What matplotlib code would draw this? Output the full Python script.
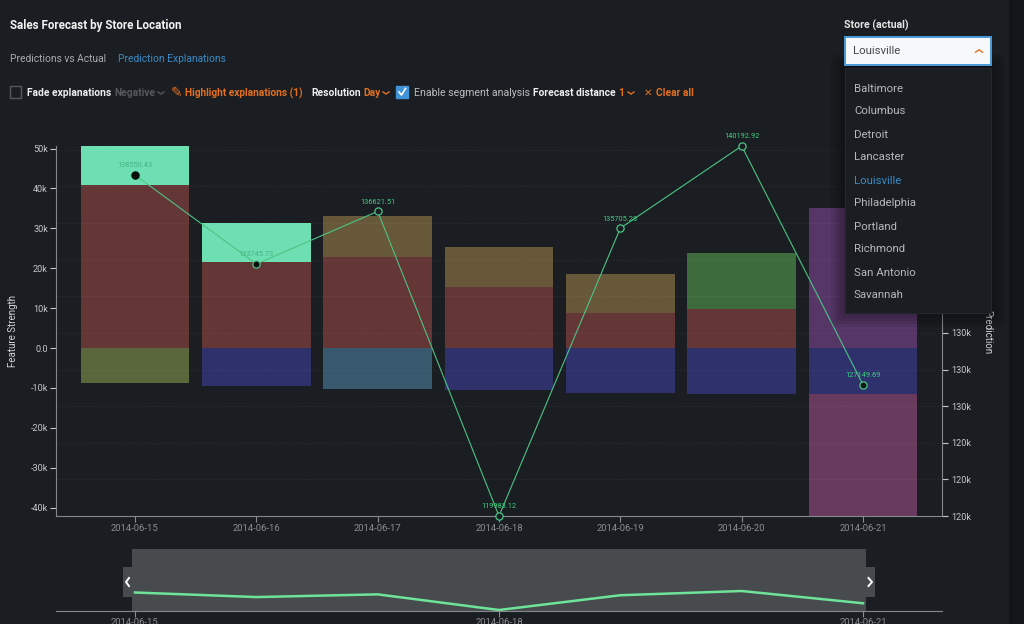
#!/usr/bin/env python3
"""Sales forecast by store location, dark dashboard view."""
import matplotlib
matplotlib.use("Agg")
import matplotlib.pyplot as plt
from matplotlib.patches import FancyBboxPatch, Rectangle

# ─── Data ────────────────────────────────────────────────────────────────
dates = ["2014-06-15", "2014-06-16", "2014-06-17", "2014-06-18",
         "2014-06-19", "2014-06-20", "2014-06-21"]
prediction = [138610.43, 133747.73, 136621.51, 119983.12,
              135705.28, 140192.92, 127149.69]
pred_labels = ["138550.43", "133745.73", "136621.51", "119983.12",
               "135705.28", "140192.92", "127149.69"]

pos_first = [40900, 21500, 22800, 15400, 8800, 9650, 35000]
pos_second = [9700, 9800, 10200, 9900, 9700, 14150, 0]
neg_first = [-8800, -9450, -10300, -10500, -11300, -11500, -11500]
neg_second = [0, 0, 0, 0, 0, 0, -30600]

strength_ticks = [-40000, -30000, -20000, -10000, 0, 10000, 20000, 30000, 40000, 50000]
strength_labels = ["-40k", "-30k", "-20k", "-10k", "0.0", "10k", "20k", "30k", "40k", "50k"]
pred_ticks = [119983.12, 121983.12, 123983.12, 125983.12, 127983.12, 129983.12,
              131983.12, 133983.12, 135983.12, 137983.12, 139983.12]
stores = ["Baltimore", "Columbus", "Detroit", "Lancaster", "Louisville",
          "Philadelphia", "Portland", "Richmond", "San Antonio", "Savannah"]

# ─── Style ───────────────────────────────────────────────────────────────
BG = "#1a1d21"
GREEN = "#4cc484"
LABEL_GREEN = "#3fd184"
ORANGE = "#e4701e"
BLUE = "#3a8cc6"
MAROON = "#643636"
colors_first = [MAROON] * 6 + ["#553666"]
colors_second = ["#6edfb2", "#6edfb2", "#675839", "#675839", "#675839", "#3e6b3e", "#553666"]
colors_neg = ["#5a673b", "#2e316b", "#38586e", "#2e316b", "#2e316b", "#2e316b", "#2e316b"]
color_neg_low = "#683b5e"

plt.rcParams["font.family"] = ["Roboto", "DejaVu Sans"]
plt.rcParams["font.size"] = 7.5


def px_rect(left, top, right, bottom):
    """Axes rectangle from pixel edges of the 1024x624 canvas."""
    return [left / 1024, (624 - bottom) / 624, (right - left) / 1024, (bottom - top) / 624]


def chevron(ov, x, y, color, up=False, size=3.0):
    d = -size * 0.7 if up else size * 0.7
    ov.plot([x - size, x, x + size], [y - d / 2, y + d / 2, y - d / 2], color=color, lw=1.0)


def main():
    fig = plt.figure(figsize=(10.24, 6.24), dpi=100, facecolor=BG)
    xs = list(range(len(dates)))
    xlim = (-0.651, 6.651)

    # ─── Bars ────────────────────────────────────────────────────────────
    ax = fig.add_axes(px_rect(56, 146, 942, 516), facecolor="none")
    ax.bar(xs, pos_first, width=0.895, color=colors_first)
    ax.bar(xs, pos_second, width=0.895, bottom=pos_first, color=colors_second)
    ax.bar(xs, neg_first, width=0.895, color=colors_neg)
    ax.bar(xs, neg_second, width=0.895, bottom=neg_first, color=color_neg_low)
    ax.set_xlim(xlim)
    ax.set_ylim(-42105, 50627)
    ax.set_xticks(xs, dates)
    ax.set_yticks(strength_ticks, strength_labels)
    ax.tick_params(axis="x", colors="#8b8d90", length=4, width=0.8, pad=2, labelsize=6.8)
    ax.tick_params(axis="y", colors="#c4c6c8", length=4.3, width=0.8, pad=1.5, labelsize=6.6)
    for name, spine in ax.spines.items():
        spine.set_visible(name in ("left", "bottom"))
        spine.set_color("#85888b")
    ax.set_ylabel("Feature Strength", color="#d5d6d8", fontsize=7)
    ax.yaxis.set_label_coords(-0.0429, 0.5)

    # ─── Prediction line ─────────────────────────────────────────────────
    ax2 = ax.twinx()
    ax2.set_facecolor("none")
    ax2.set_ylim(119983.12, 140192.92)
    ax2.set_yticks(pred_ticks, [f"{round(v / 10000) * 10}k" for v in pred_ticks])
    ax2.tick_params(axis="y", colors="#c4c6c8", length=4, width=0.8, pad=2.5, labelsize=6.6)
    ax2.grid(axis="y", color="white", alpha=0.08, ls=":", lw=0.7)
    for name, spine in ax2.spines.items():
        spine.set_visible(name == "right")
        spine.set_color("#85888b")
    ax2.set_ylabel("Prediction", color="#d5d6d8", fontsize=7, rotation=270)
    ax2.yaxis.set_label_coords(1.0565, 0.497)

    ax2.plot(xs, prediction, color=GREEN, lw=0.8, zorder=3)
    fills = ["#0a0d0d", "#0a0d0d", BG, BG, BG, BG, "#10181c"]
    edges = ["#0a0d0d", GREEN, GREEN, GREEN, GREEN, GREEN, GREEN]
    for x, y, fc, ec, lab in zip(xs, prediction, fills, edges, pred_labels):
        ax2.plot(x, y, "o", ms=5.2, mfc=fc, mec=ec, mew=0.9, clip_on=False, zorder=4)
        ax2.annotate(lab, (x, y), xytext=(0, 5.5), textcoords="offset points", ha="center",
                     color=LABEL_GREEN if fc != "#0a0d0d" else "#46b585", fontsize=5.3, zorder=5)

    # ─── Navigator ───────────────────────────────────────────────────────
    nav = fig.add_axes(px_rect(56, 549, 942, 611), facecolor="none")
    nav.axvspan(-0.025, 6.025, color="#484b4e", lw=0)
    nav.plot(xs, prediction, color="#6ee39a", lw=1.8)
    nav.set_xlim(xlim)
    nav.set_ylim(118920, 184900)
    nav.set_yticks([])
    nav.set_xticks([0, 3, 6], [dates[0], dates[3], dates[6]])
    nav.tick_params(axis="x", colors="#8b8d90", length=4, width=0.8, pad=1, labelsize=6.8)
    for name, spine in nav.spines.items():
        spine.set_visible(name == "bottom")
        spine.set_color("#85888b")

    # ─── Dashboard chrome, in pixel coordinates ──────────────────────────
    ov = fig.add_axes([0, 0, 1, 1], facecolor="none", zorder=5)
    ov.set_xlim(0, 1024)
    ov.set_ylim(624, 0)
    ov.axis("off")

    ov.add_patch(Rectangle((1009, 0), 15, 624, color="#12161a", lw=0))
    ov.add_patch(Rectangle((123, 567), 9, 30, color="#484b4e", lw=0))
    ov.add_patch(Rectangle((866, 567), 9, 30, color="#484b4e", lw=0))
    ov.plot([129, 126, 129], [578, 582, 586], color="white", lw=1.4)
    ov.plot([868.5, 872, 868.5], [578, 582, 586], color="white", lw=1.4)

    ov.text(10, 25, "Sales Forecast by Store Location", color="#f2f2f2", fontsize=8.4,
            fontweight="bold", va="center")
    ov.text(10, 59, "Predictions vs Actual", color="#a9abad", fontsize=7.4, va="center")
    ov.text(118, 59, "Prediction Explanations", color=BLUE, fontsize=7.4, va="center")

    row = 93
    ov.add_patch(Rectangle((10, row - 7), 11, 12, fc="none", ec="#55585b", lw=1))
    ov.text(27, row, "Fade explanations", color="#eeeeee", fontsize=7.4, fontweight="bold", va="center")
    ov.text(114, row, "Negative", color="#55585b", fontsize=7.4, fontweight="bold", va="center")
    chevron(ov, 161, row, "#55585b")
    ov.text(171, row, "✎", color=ORANGE, fontsize=10, family="DejaVu Sans", va="center")
    ov.text(185, row, "Highlight explanations (1)", color=ORANGE, fontsize=7.3, fontweight="bold", va="center")
    ov.text(311, row, "Resolution", color="#eeeeee", fontsize=7.4, fontweight="bold", va="center")
    ov.text(363, row, "Day", color=ORANGE, fontsize=7.4, fontweight="bold", va="center")
    chevron(ov, 386, row, ORANGE)
    ov.add_patch(Rectangle((396, row - 7), 12, 12, fc="#3f93d6", ec="#3f93d6", lw=1))
    ov.plot([399, 401.5, 405.5], [row - 1, row + 2, row - 4.5], color="white", lw=1.2)
    ov.text(414, row, "Enable segment analysis", color="#bcbdbf", fontsize=7.6, va="center")
    ov.text(533, row, "Forecast distance", color="#eeeeee", fontsize=7.4, fontweight="bold", va="center")
    ov.text(618, row, "1", color=ORANGE, fontsize=7.4, fontweight="bold", va="center")
    chevron(ov, 631, row, ORANGE)
    ov.text(644, row, "✕", color=ORANGE, fontsize=7.5, fontweight="bold", family="DejaVu Sans", va="center")
    ov.text(656, row, "Clear all", color=ORANGE, fontsize=7.4, fontweight="bold", va="center")

    # store selector and its open list, soft shadow first
    ov.text(844, 25, "Store (actual)", color="#e4e4e4", fontsize=7.6, fontweight="bold", va="center")
    for grow in (14, 11, 8, 5, 2):
        ov.add_patch(FancyBboxPatch((845 - grow, 68 - grow), 146 + 2 * grow, 245 + 2 * grow,
                                    boxstyle="round,pad=0,rounding_size=6", fc="black",
                                    alpha=0.07, lw=0))
    ov.add_patch(Rectangle((845, 68), 146, 245, fc=BG, ec="#24272b", lw=0.8))
    ov.add_patch(Rectangle((845, 37), 146, 28, fc="#f7f8f9", ec="#4a9ad8", lw=1.4))
    ov.text(853, 51.5, "Louisville", color="#44474a", fontsize=8.2, va="center")
    chevron(ov, 979, 51, ORANGE, up=True, size=3.5)
    for i, store in enumerate(stores):
        ov.text(854, 88.5 + 23 * i, store, color=BLUE if store == "Louisville" else "#b6b8ba",
                fontsize=8.2, va="center")

    fig.savefig("out.png", dpi=100, facecolor=BG)
    print("saved out.png")


if __name__ == "__main__":
    main()
